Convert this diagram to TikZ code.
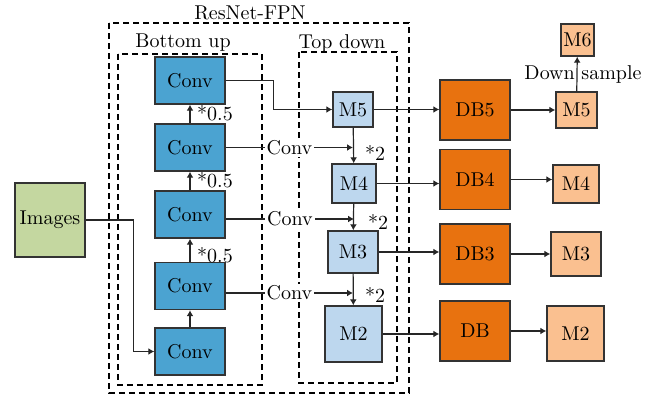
\documentclass[tikz,border=0pt]{standalone}
\usetikzlibrary{arrows.meta}
\definecolor{convblue}{HTML}{4BA3D1}
\definecolor{featblue}{HTML}{BDD7EE}
\definecolor{dborange}{HTML}{E8720F}
\definecolor{outorange}{HTML}{FAC090}
\definecolor{imggreen}{HTML}{C4D7A0}
\begin{document}
\begin{tikzpicture}[x=0.5pt,y=-0.5pt,
  box/.style={draw=black!80,line width=0.7pt,inner sep=0pt},
  convbox/.style={box,fill=convblue,minimum width=35pt,minimum height=23.5pt},
  featbox/.style={box,fill=featblue},
  dbbox/.style={box,fill=dborange,minimum width=35pt,minimum height=30pt},
  outbox/.style={box,fill=outorange},
  link/.style={line width=0.6pt,draw=black!85,-{Latex[length=3pt,width=3.5pt]}},
  frame/.style={dash pattern=on 3pt off 2pt,line width=0.6pt}]
  \useasboundingbox (0,0) rectangle (655,396);
  \draw[frame] (109,23) rectangle (409,393);
  \draw[frame] (118,54) rectangle (262,385);
  \draw[frame] (299,52) rectangle (397,383);
  \node (tfpn) at (250,13) {ResNet-FPN};
  \node (tbu) at (183,43) {Bottom up};
  \node (ttd) at (342,43) {Top down};
  \node[box,fill=imggreen,minimum width=35pt,minimum height=37pt] (images) at (50,220) {Images};
  \foreach \i/\y in {1/80.5,2/147.5,3/214.5,4/286,5/351.5}
    \node[convbox] (conv\i) at (190,\y) {Conv};
  \node[featbox,minimum width=20pt,minimum height=17.5pt] (m5) at (353,109.5) {M5};
  \node[featbox,minimum width=22pt,minimum height=19.5pt] (m4) at (354,183.5) {M4};
  \node[featbox,minimum width=25pt,minimum height=21pt] (m3) at (353,252) {M3};
  \node[featbox,minimum width=28.5pt,minimum height=28pt] (m2) at (353.5,334) {M2};
  \node[dbbox] (db5) at (475,110) {DB5};
  \node[dbbox] (db4) at (475,179.5) {DB4};
  \node[dbbox] (db3) at (475,254) {DB3};
  \node[dbbox] (db2) at (475,331) {DB};
  \node[outbox,minimum width=20.5pt,minimum height=18pt] (r5) at (576.5,110) {M5};
  \node[outbox,minimum width=16.5pt,minimum height=16pt] (r6) at (577.5,40) {M6};
  \node[outbox,minimum width=23pt,minimum height=19pt] (r4) at (576,184) {M4};
  \node[outbox,minimum width=25pt,minimum height=22pt] (r3) at (576,254) {M3};
  \node[outbox,minimum width=28.5pt,minimum height=27.5pt] (r2) at (575.5,333.5) {M2};
  \draw[link] (images.east) -- ++(48,0) |- (conv5.west);
  \foreach \a/\b in {5/4,4/3,3/2,2/1}
    \draw[link] (conv\a) -- (conv\b);
  \node (h1) at (215,113) {*0.5};
  \node (h2) at (215,180) {*0.5};
  \node (h3) at (215,255) {*0.5};
  \draw[link] (conv1.east) -- ++(48,0) |- (m5.west);
  \foreach \i/\m/\dy in {2/5/0,3/4/-2.25,4/3/-3.5}
    \draw[link] ([yshift=\dy pt]conv\i.east) -- ([yshift=\dy pt]conv\i.east -| m\m.south)
      node[midway,fill=white,inner sep=1pt] (lat\i) {Conv};
  \draw[link] (m5) -- (m4);
  \draw[link] (m4) -- (m3);
  \draw[link] (m3) -- (m2);
  \node (u5) at (375,153) {*2};
  \node (u4) at (378,222) {*2};
  \node (u3) at (375,295) {*2};
  \foreach \i in {5,4,3,2}{
    \draw[link] (m\i.east) -- (m\i.east -| db\i.west);
    \draw[link] (db\i.east) -- (db\i.east -| r\i.west);
  }
  \draw[link] (r5) -- (r6);
  \node (tds) at (583,74) {Down sample};
\end{tikzpicture}
\end{document}
